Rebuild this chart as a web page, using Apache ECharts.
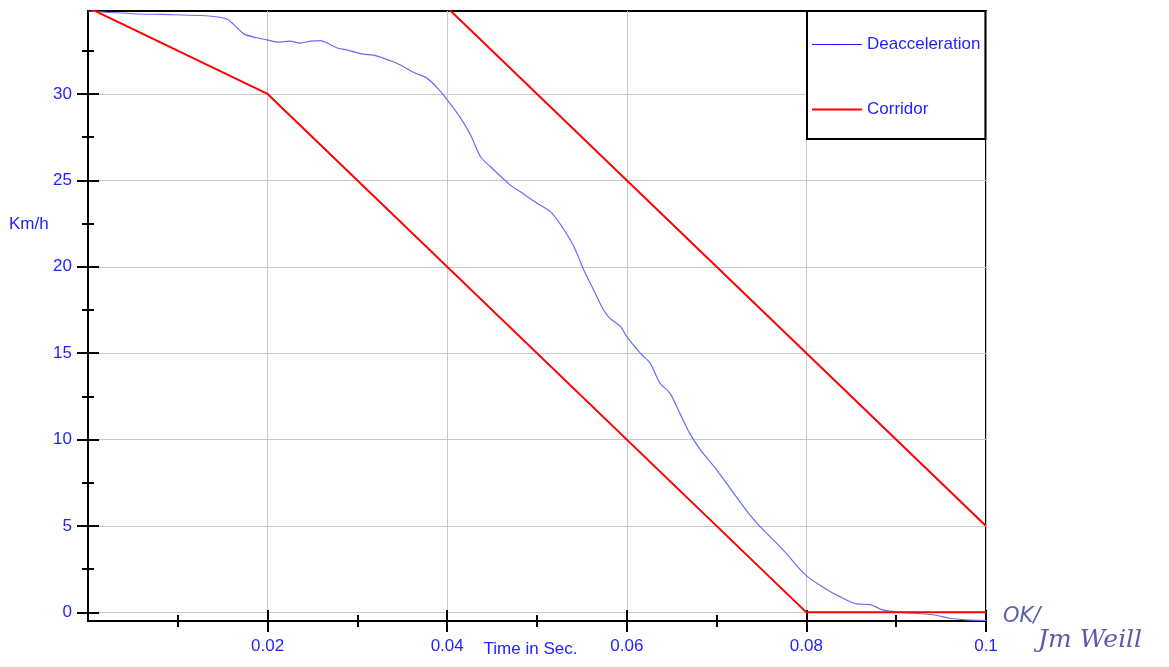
<!DOCTYPE html>
<html>
<head>
<meta charset="utf-8">
<script src="https://cdn.jsdelivr.net/npm/echarts@6/dist/echarts.min.js"></script>
<style>
html,body{margin:0;padding:0;background:#fff;}
#c{width:1169px;height:667px;}
</style>
</head>
<body>
<div id="c"></div>
<script>
// ---- data ----
const decelT = [0, 0.0051, 0.0081, 0.0125, 0.0147, 0.0156, 0.0166, 0.0174, 0.0188, 0.0199, 0.0211, 0.0225, 0.0236, 0.0248, 0.0259, 0.0266, 0.0277, 0.0288, 0.0307, 0.0318, 0.0337, 0.0348, 0.0363, 0.0377, 0.0389, 0.0400, 0.0415, 0.0426, 0.0437, 0.0448, 0.0470, 0.0481, 0.0500, 0.0515, 0.0529, 0.0541, 0.0552, 0.0563, 0.0574, 0.0581, 0.0593, 0.0600, 0.0615, 0.0626, 0.0637, 0.0648, 0.0659, 0.0670, 0.0682, 0.0700, 0.0719, 0.0737, 0.0752, 0.0774, 0.0799, 0.0819, 0.0837, 0.0856, 0.0871, 0.0885, 0.0904, 0.0941, 0.0960, 0.0978, 0.1000];
const decelV = [34.8, 34.64, 34.6, 34.54, 34.44, 34.29, 33.83, 33.46, 33.25, 33.13, 33.0, 33.06, 32.94, 33.06, 33.09, 32.96, 32.67, 32.55, 32.30, 32.25, 31.92, 31.68, 31.24, 30.93, 30.35, 29.66, 28.60, 27.63, 26.38, 25.80, 24.74, 24.35, 23.68, 23.19, 22.23, 21.17, 19.82, 18.66, 17.51, 17.03, 16.54, 15.96, 15.0, 14.42, 13.26, 12.69, 11.53, 10.37, 9.40, 8.25, 6.90, 5.64, 4.77, 3.62, 2.17, 1.44, 0.91, 0.49, 0.45, 0.14, 0.01, -0.14, -0.34, -0.43, -0.47];
const corridorLowT = [0, 0.02, 0.08, 0.1];
const corridorLowV = [35, 30, 0, 0];
const corridorHighT = [0.04, 0.1];
const corridorHighV = [35, 5];
const xMajor = [0.02, 0.04, 0.06, 0.08, 0.1];
const xMinor = [0.01, 0.03, 0.05, 0.07, 0.09];
const yMajor = [0, 5, 10, 15, 20, 25, 30];
const yMinor = [2.5, 7.5, 12.5, 17.5, 22.5, 27.5, 32.5];
const seriesNames = ['Deacceleration', 'Corridor'];

const zip = (a, b) => a.map((v, i) => [v, b[i]]);
const FONT = 'Liberation Sans, Arial, sans-serif';
const TXT = '#2323ff';
const AX = {color: '#000', width: 2};

function xAx(ticks, len, inside, labels, split) {
  return {
    type: 'value', min: 0, max: 0.1, position: 'bottom',
    axisLine: {show: true, onZero: false, lineStyle: AX},
    axisTick: {show: true, inside: inside, length: len, customValues: ticks, lineStyle: AX},
    axisLabel: labels ? {show: true, customValues: ticks, margin: 17, color: TXT, fontSize: 17, fontFamily: FONT,
      formatter: v => String(+v.toFixed(2))} : {show: false},
    splitLine: {show: split, lineStyle: {color: '#c8c8c8', width: 1}},
    name: labels ? 'Time in Sec.' : '', nameLocation: 'middle', nameGap: 20, nameMoveOverlap: false,
    nameTextStyle: {color: TXT, fontSize: 17, fontFamily: FONT, padding: [0, 13, 0, 0]}
  };
}
function yAx(ticks, len, inside, labels, split) {
  return {
    type: 'value', min: -0.5, max: 34.8, position: 'left',
    axisLine: {show: true, onZero: false, lineStyle: AX},
    axisTick: {show: true, inside: inside, length: len, customValues: ticks, lineStyle: AX},
    axisLabel: labels ? {show: true, customValues: ticks, margin: 16, color: TXT, fontSize: 17, fontFamily: FONT} : {show: false},
    splitLine: {show: split, lineStyle: {color: '#c8c8c8', width: 1}}
  };
}

const chart = echarts.init(document.getElementById('c'), null, {renderer: 'canvas'});
chart.setOption({
  animation: false,
  backgroundColor: '#fff',
  grid: {left: 88, right: 183, top: 11, bottom: 46, show: true, borderColor: '#000', borderWidth: 2,
    containLabel: false, outerBoundsMode: 'none'},
  xAxis: [
    xAx(xMajor, 11, false, true, true),
    xAx(xMajor, 11, true, false, false),
    xAx(xMinor, 6, false, false, false),
    xAx(xMinor, 6, true, false, false)
  ],
  yAxis: [
    yAx(yMajor, 11, false, true, true),
    yAx(yMajor, 11, true, false, false),
    yAx(yMinor, 6, false, false, false),
    yAx(yMinor, 6, true, false, false)
  ],
  legend: {
    orient: 'vertical', left: 807, top: 11,
    selectedMode: false,
    itemWidth: 50, itemHeight: 2, itemGap: 48,
    padding: [25, 5, 21, 4],
    backgroundColor: '#fff', borderColor: '#000', borderWidth: 2, borderRadius: 0,
    textStyle: {color: TXT, fontSize: 17, fontFamily: FONT},
    data: [
      {name: seriesNames[0], lineStyle: {color: '#1a1aff', width: 1}},
      {name: seriesNames[1], lineStyle: {color: '#ff0000', width: 2}}
    ]
  },
  graphic: [
    {type: 'text', left: 9, top: 216, style: {text: 'Km/h', fill: TXT, font: '17px ' + FONT}},
    {type: 'text', left: 1003, top: 606, style: {text: 'OK/', fill: '#5c5cad', font: 'italic 21px DejaVu Sans'}},
    {type: 'text', left: 1038, top: 628, style: {text: 'Jm Weill', fill: '#5c5cad', font: 'italic 25px DejaVu Serif'}}
  ],
  series: [
    {name: seriesNames[0], type: 'line', xAxisIndex: 0, yAxisIndex: 0, data: zip(decelT, decelV),
      symbol: 'none', smooth: 0.3, clip: true, lineStyle: {color: '#6a6aff', width: 1.2}, itemStyle: {color: '#1a1aff'}, z: 3},
    {name: seriesNames[1], type: 'line', xAxisIndex: 0, yAxisIndex: 0, data: zip(corridorLowT, corridorLowV),
      symbol: 'none', clip: true, lineStyle: {color: '#ff0000', width: 2}, itemStyle: {color: '#ff0000'}, z: 4},
    {name: seriesNames[1], type: 'line', xAxisIndex: 0, yAxisIndex: 0, data: zip(corridorHighT, corridorHighV),
      symbol: 'none', clip: true, lineStyle: {color: '#ff0000', width: 2}, itemStyle: {color: '#ff0000'}, z: 4}
  ]
});
</script>
</body>
</html>
